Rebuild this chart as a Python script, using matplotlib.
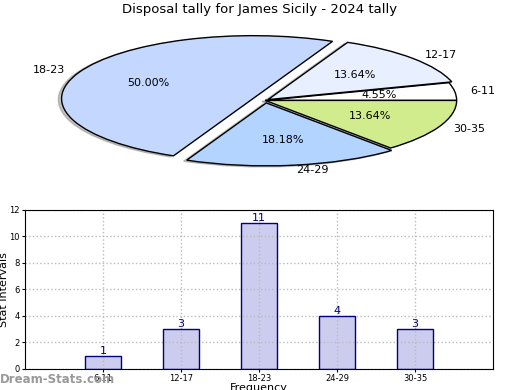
import matplotlib
matplotlib.use("Agg")
import matplotlib.pyplot as plt

categories = ["6-11", "12-17", "18-23", "24-29", "30-35"]
counts = [1, 3, 11, 4, 3]
pie_colors = ["#ffffff", "#e8f0ff", "#c4d8ff", "#b3d4ff", "#d0ec8c"]
explode = [0.0, 0.02, 0.07, 0.04, 0.0]
title = "Disposal tally for James Sicily - 2024 tally"

fig = plt.figure(figsize=(5.2, 3.9), dpi=100)

ax1 = fig.add_axes([0.105, 0.565, 0.81, 0.355])
wedges, texts, autotexts = ax1.pie(
    counts, labels=categories, colors=pie_colors, explode=explode,
    autopct="%.2f%%", startangle=0, shadow=dict(ox=-0.012, oy=-0.012, color="#888888"),
    labeldistance=1.08,
    pctdistance=0.6, wedgeprops=dict(edgecolor="black", linewidth=1.0),
    textprops=dict(fontsize=8))
ax1.set_xlim(-1.1, 1.1)
ax1.set_ylim(-1.1, 1.1)
ax1.set_aspect("auto")
fig.text(0.5, 0.992, title, ha="center", va="top", fontsize=9.5)

ax2 = fig.add_axes([0.048, 0.054, 0.9, 0.408])
x = list(range(1, len(categories) + 1))
ax2.bar(x, counts, width=0.45, color="#ccccee", linewidth=0, zorder=1)
ax2.bar(x, counts, width=0.45, fill=False, edgecolor="#000080", linewidth=1.0, zorder=3)
for xi, c in zip(x, counts):
    ax2.text(xi, c, str(c), ha="center", va="bottom", fontsize=8, color="#000080", zorder=4)
ax2.set_xlim(0, 6)
ax2.set_ylim(0, 12)
ax2.set_xticks(x)
ax2.set_xticklabels(categories, fontsize=6)
ax2.set_yticks(range(0, 13, 2))
ax2.tick_params(axis="y", labelsize=6, length=2, pad=2)
ax2.tick_params(axis="x", length=2, pad=2)
ax2.set_axisbelow(False)
ax2.grid(True, linestyle=":", color="#bbbbbb", linewidth=1.0, zorder=2)
for sp in ax2.spines.values():
    sp.set_zorder(5)
ax2.set_ylabel("Stat Intervals", fontsize=8)
ax2.yaxis.set_label_coords(-0.035, 0.5)
ax2.set_xlabel("Frequency", fontsize=8)
ax2.xaxis.set_label_coords(0.5, -0.09)
ax2.xaxis.label.set_va("top")
fig.text(0.0, 0.01, "Dream-Stats.com", fontsize=8.5, color="#999999", fontweight="bold", ha="left", va="bottom")

fig.savefig("out.png", dpi=100)
